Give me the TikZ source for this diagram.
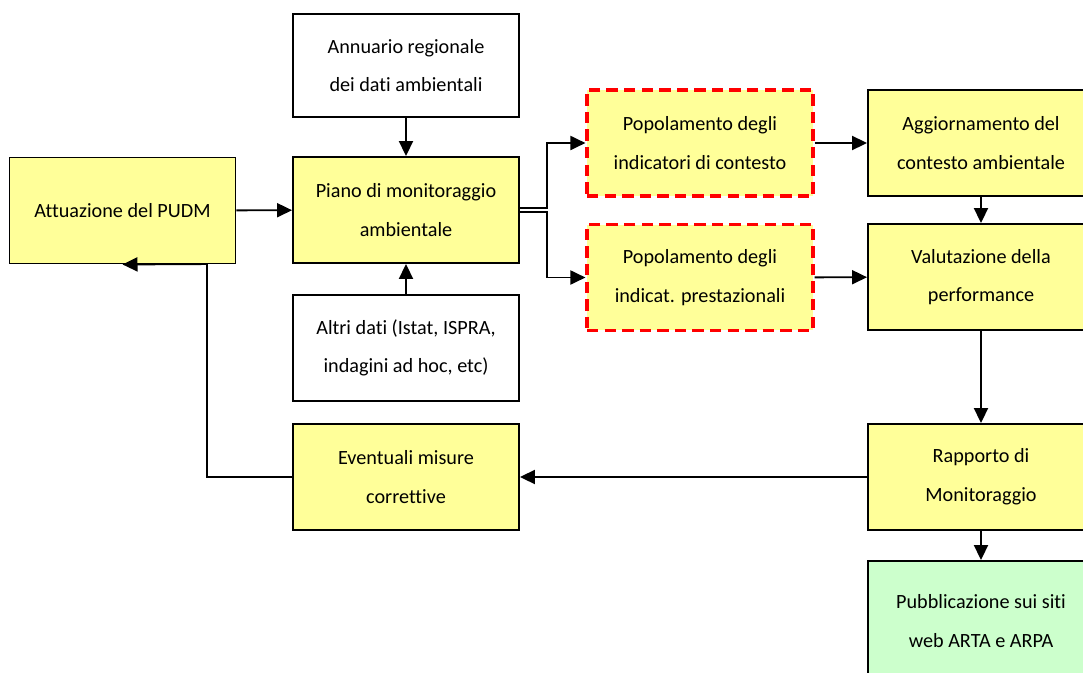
\documentclass[tikz,border=0pt]{standalone}
\usepackage{fontspec}
\setmainfont{Carlito}[RawFeature=-liga]
\usepackage{tikz}
\usetikzlibrary{arrows.meta,positioning,calc}
\definecolor{boxYel}{RGB}{255,255,153}
\definecolor{boxGrn}{RGB}{204,255,204}
\definecolor{dashRed}{RGB}{255,0,0}
\tikzset{
  block/.style={draw,line width=1.1pt,align=center,minimum width=4.52cm,
                minimum height=2.12cm,font=\fontsize{11.5}{22}\selectfont,fill=boxYel},
  plain/.style={block,fill=white},
  pub/.style={block,fill=boxGrn},
  popl/.style={block,draw=dashRed,line width=1.8pt,dash pattern=on 6.5pt off 3.5pt},
  flow/.style={-{Triangle[length=3mm,width=2.8mm]},line width=1.1pt},
}
\begin{document}
\begin{tikzpicture}[x=0.02cm,y=-0.02cm]
    \useasboundingbox (0,0) rectangle (1083,673);
    % --- left column ---
    \node[block] (att) at (122.5,210.5) {Attuazione del PUDM};
    % --- middle column ---
    \node[plain,minimum height=2.06cm] (annu) at (406,65.5) {Annuario regionale\\dei dati ambientali};
    \node[block] (piano) at (406,210) {Piano di monitoraggio\\ambientale};
    \node[plain] (altri) at (406,348) {Altri dati (Istat, ISPRA,\\indagini ad hoc, etc)};
    \node[block] (event) at (406,477) {Eventuali misure\\correttive};
    % --- indicators ---
    \node[popl] (pop1) at (700,143) {Popolamento degli\\indicatori di contesto};
    \node[popl] (pop2) at (700,277.5) {Popolamento degli\\indicat. prestazionali};
    % --- right column ---
    \node[block] (agg) at (981,143) {Aggiornamento del\\contesto ambientale};
    \node[block] (val) at (981,277) {Valutazione della\\performance};
    \node[block] (rapp) at (981,477) {Rapporto di\\Monitoraggio};
    \node[pub,minimum height=2.4cm] (pubb) at (981,621) {Pubblicazione sui siti\\web ARTA e ARPA};
    % --- connectors ---
    \draw[flow] (annu) -- (piano);
    \draw[flow] (altri) -- (piano);
    \draw[flow] (att) -- (piano);
    \draw[flow] ([yshift=1.1pt]piano.east) -- ++(27,0) |- (pop1.west);
    \draw[flow] ([yshift=-1.1pt]piano.east) -- ++(27,0) |- (pop2.west);
    \draw[flow] (pop1) -- (agg);
    \draw[flow] (pop2) -- (val);
    \draw[flow] (agg) -- (val);
    \draw[flow] (val) -- (rapp);
    \draw[flow] (rapp) -- (event);
    \draw[flow] (rapp) -- (pubb);
    \coordinate (fbturn) at (207,264);
    \draw[flow] (event.west) -| (fbturn) -- (att.south);
\end{tikzpicture}
\end{document}
